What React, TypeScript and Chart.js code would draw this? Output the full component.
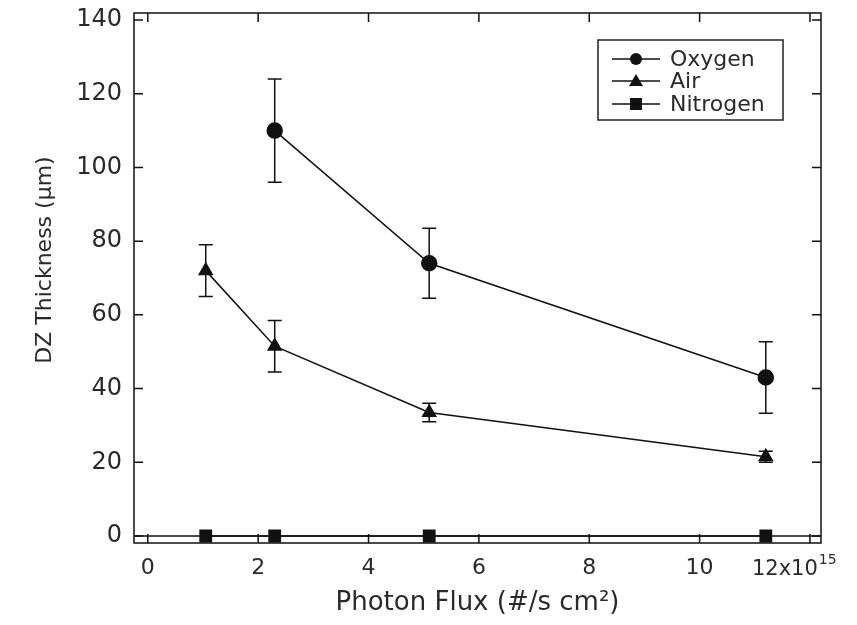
import React, { useEffect, useRef } from "react";
import { Chart, registerables } from "chart.js";

Chart.register(...registerables);

const oxygenX = [2.3, 5.1, 11.2];
const oxygenY = [110, 74, 43];
const oxygenErr = [14, 9.5, 9.7];

const airX = [1.05, 2.3, 5.1, 11.2];
const airY = [72, 51.5, 33.5, 21.5];
const airErr = [7, 7, 2.5, 1.5];

const nitrogenX = [1.05, 2.3, 5.1, 11.2];
const nitrogenY = [0, 0, 0, 0];
const nitrogenErr = [0, 0, 0, 0];

const seriesLabels = ["Oxygen", "Air", "Nitrogen"];
const seriesMarkers = ["circle", "triangle", "rect"];
const xTickValues = [0, 2, 4, 6, 8, 10, 12];
const yTickValues = [0, 20, 40, 60, 80, 100, 120, 140];
const xTitle = "Photon Flux (#/s cm²)";
const yTitle = "DZ Thickness (µm)";
const xMultiplier = "12x10";
const xMultiplierExp = "15";

const FONT = "'DejaVu Sans', sans-serif";
const TEXT = "#2a2a2a";

function toPoints(xs: number[], ys: number[], es: number[]) {
  return xs.map((x, i) => ({ x, y: ys[i], err: es[i] }));
}

const frameAndErrors = {
  id: "frameAndErrors",
  beforeDatasetsDraw(chart: any) {
    const { ctx, chartArea, scales } = chart;
    const xs = scales.x;
    const ys = scales.y;
    ctx.save();
    ctx.strokeStyle = "#111";
    ctx.lineWidth = 1.5;
    ctx.beginPath();
    ctx.moveTo(chartArea.left, ys.getPixelForValue(0));
    ctx.lineTo(chartArea.right, ys.getPixelForValue(0));
    ctx.stroke();
    ctx.strokeRect(chartArea.left, chartArea.top, chartArea.right - chartArea.left, chartArea.bottom - chartArea.top);
    const tl = 9;
    ctx.beginPath();
    yTickValues.forEach((v) => {
      const py = ys.getPixelForValue(v);
      ctx.moveTo(chartArea.left, py);
      ctx.lineTo(chartArea.left + tl, py);
      ctx.moveTo(chartArea.right, py);
      ctx.lineTo(chartArea.right - tl, py);
    });
    xTickValues.forEach((v) => {
      const px = xs.getPixelForValue(v);
      ctx.moveTo(px, chartArea.bottom);
      ctx.lineTo(px, chartArea.bottom - tl);
      ctx.moveTo(px, chartArea.top);
      ctx.lineTo(px, chartArea.top + tl);
    });
    ctx.stroke();
    chart.data.datasets.forEach((ds: any) => {
      ds.data.forEach((p: any) => {
        if (!p.err) return;
        const px = xs.getPixelForValue(p.x);
        const y1 = ys.getPixelForValue(p.y + p.err);
        const y2 = ys.getPixelForValue(p.y - p.err);
        ctx.beginPath();
        ctx.moveTo(px, y1);
        ctx.lineTo(px, y2);
        ctx.moveTo(px - 7, y1);
        ctx.lineTo(px + 7, y1);
        ctx.moveTo(px - 7, y2);
        ctx.lineTo(px + 7, y2);
        ctx.stroke();
      });
    });
    ctx.restore();
  },
  afterDraw(chart: any) {
    const { ctx, scales } = chart;
    const xs = scales.x;
    ctx.save();
    ctx.fillStyle = TEXT;
    ctx.save();
    ctx.translate(45, 260);
    ctx.rotate(-Math.PI / 2);
    ctx.font = `22px ${FONT}`;
    ctx.textAlign = "center";
    ctx.textBaseline = "middle";
    ctx.fillText(yTitle, 0, 0);
    ctx.restore();
    const px = xs.getPixelForValue(12);
    ctx.font = `21px ${FONT}`;
    ctx.textBaseline = "middle";
    ctx.textAlign = "left";
    const w = ctx.measureText(xMultiplier).width;
    const startX = px - 58;
    ctx.fillText(xMultiplier, startX, 570);
    ctx.font = `14px ${FONT}`;
    ctx.fillText(xMultiplierExp, startX + w + 1, 560);
    const lx = 598, ly = 40, lw = 185, lh = 80;
    ctx.strokeStyle = "#222";
    ctx.lineWidth = 1.5;
    ctx.strokeRect(lx, ly, lw, lh);
    ctx.font = `22px ${FONT}`;
    const rowsY = [59, 81, 104];
    chart.data.datasets.forEach((ds: any, i: number) => {
      const y = rowsY[i];
      ctx.strokeStyle = "#111";
      ctx.beginPath();
      ctx.moveTo(612, y);
      ctx.lineTo(660, y);
      ctx.stroke();
      ctx.fillStyle = "#111";
      ctx.beginPath();
      const cx = 636;
      if (ds.pointStyle === "circle") {
        ctx.arc(cx, y, 6, 0, Math.PI * 2);
      } else if (ds.pointStyle === "triangle") {
        ctx.moveTo(cx, y - 7);
        ctx.lineTo(cx + 7, y + 5);
        ctx.lineTo(cx - 7, y + 5);
        ctx.closePath();
      } else {
        ctx.rect(cx - 6, y - 6, 12, 12);
      }
      ctx.fill();
      ctx.fillStyle = TEXT;
      ctx.textAlign = "left";
      ctx.fillText(ds.label, 670, y + 1);
    });
    ctx.restore();
  },
};

export default function App() {
  const ref = useRef<HTMLCanvasElement | null>(null);
  useEffect(() => {
    document.body.style.margin = "0";
    const canvas = ref.current;
    if (!canvas) return;
    const series = [
      toPoints(oxygenX, oxygenY, oxygenErr),
      toPoints(airX, airY, airErr),
      toPoints(nitrogenX, nitrogenY, nitrogenErr),
    ];
    const chart = new Chart(canvas, {
      type: "line",
      data: {
        datasets: series.map((data, i) => ({
          label: seriesLabels[i],
          data,
          borderColor: "#111",
          backgroundColor: "#111",
          borderWidth: 1.5,
          pointStyle: seriesMarkers[i] as any,
          pointRadius: i === 2 ? 8 : 7.5,
          pointBackgroundColor: "#111",
          pointBorderColor: "#111",
          tension: 0,
          fill: false,
        })),
      },
      plugins: [frameAndErrors],
      options: {
        animation: false,
        responsive: false,
        layout: { autoPadding: false, padding: { left: 0, right: 36, top: 13, bottom: 0 } } as any,
        plugins: {
          legend: { display: false },
          tooltip: { enabled: false },
        },
        scales: {
          x: {
            type: "linear",
            min: -0.25,
            max: 12.2,
            afterBuildTicks: (s: any) => {
              s.ticks = xTickValues.map((v) => ({ value: v }));
            },
            afterFit: (s: any) => {
              s.height = 625 - 543;
              s.paddingLeft = 0;
              s.paddingRight = 0;
            },
            grid: { display: false, drawTicks: false },
            border: { display: false },
            ticks: {
              color: TEXT,
              font: { family: FONT, size: 22 },
              padding: 12,
              maxRotation: 0,
              callback: (v: any) => (v === 12 ? "" : String(v)),
            },
            title: {
              display: true,
              text: xTitle,
              color: TEXT,
              font: { family: FONT, size: 26 },
              padding: { top: 0, bottom: 6 },
            },
          },
          y: {
            type: "linear",
            min: -1.9,
            max: 141.9,
            afterBuildTicks: (s: any) => {
              s.ticks = yTickValues.map((v) => ({ value: v }));
            },
            afterFit: (s: any) => {
              s.width = 134;
              s.paddingTop = 0;
              s.paddingBottom = 0;
            },
            grid: { display: false, drawTicks: false },
            border: { display: false },
            ticks: {
              color: TEXT,
              font: { family: FONT, size: 24 },
              padding: 12,
            },
            title: { display: false },
          },
        },
      },
    });
    return () => chart.destroy();
  }, []);
  return (
    <div style={{ width: 857, height: 625, background: "#fff" }}>
      <canvas ref={ref} width={857} height={625} style={{ display: "block" }} />
    </div>
  );
}
